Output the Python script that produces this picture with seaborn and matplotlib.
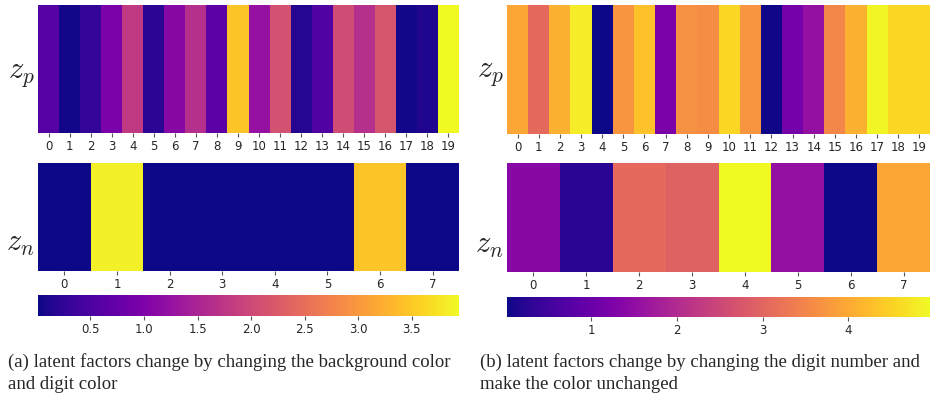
import numpy as np
import seaborn as sns
import matplotlib
matplotlib.use("Agg")
import matplotlib.pyplot as plt

# values (plasma colormap)
a_zp = [0.60, 0.05, 0.30, 0.95, 1.80, 0.22, 1.10, 1.65, 0.65, 3.45,
        1.25, 2.10, 0.15, 0.55, 2.05, 1.65, 2.15, 0.05, 0.12, 3.94]
a_zn = [0.01, 3.85, 0.01, 0.01, 0.01, 0.01, 3.45, 0.01]
b_zp = [3.96, 3.08, 4.10, 4.80, 0.02, 3.72, 4.30, 1.20, 3.67, 3.62,
        4.55, 3.72, 0.05, 1.15, 1.55, 3.52, 4.10, 4.90, 4.55, 4.55]
b_zn = [1.40, 0.27, 3.08, 2.93, 4.95, 1.55, 0.02, 3.96]

a_range = (0.01, 3.94)
b_range = (0.02, 4.95)
a_ticks = [0.5, 1.0, 1.5, 2.0, 2.5, 3.0, 3.5]
b_ticks = [1, 2, 3, 4]

cap_a = ["(a) latent factors change by changing the background color", "and digit color"]
cap_b = ["(b) latent factors change by changing the digit number and", "make the color unchanged"]

sns.set_style("white")
plt.rcParams['mathtext.fontset'] = 'cm'

W, H = 935, 396
fig = plt.figure(figsize=(W / 100, H / 100), dpi=100)


def box(x0, top, w, bottom):
    # pixel box -> figure fraction
    return [x0 / W, (H - bottom) / H, w / W, (bottom - top) / H]


def panel(x0, w, zp, zn, rng, ticks, tops, cap, cap_x, lab_y):
    ax1 = fig.add_axes(box(x0, tops[0][0], w, tops[0][1]))
    ax2 = fig.add_axes(box(x0, tops[1][0], w, tops[1][1]))
    cax = fig.add_axes(box(x0, tops[2][0], w, tops[2][1]))
    sns.heatmap(np.array(zp).reshape(1, -1), ax=ax1, cmap="plasma",
                vmin=rng[0], vmax=rng[1], cbar=False, yticklabels=False)
    sns.heatmap(np.array(zn).reshape(1, -1), ax=ax2, cmap="plasma",
                vmin=rng[0], vmax=rng[1], cbar=True, cbar_ax=cax,
                cbar_kws={"orientation": "horizontal", "ticks": ticks},
                yticklabels=False)
    for ax in (ax1, ax2, cax):
        ax.tick_params(axis="x", bottom=True, length=3, width=0.8,
                       color="#555555", labelsize=8.5, labelcolor="#262626",
                       pad=2, rotation=0)
    cax.tick_params(length=3)
    ax1.text(-0.008, lab_y[0], "$z_p$", transform=ax1.transAxes,
             ha="right", va="baseline", fontsize=22)
    ax2.text(-0.008, lab_y[1], "$z_n$", transform=ax2.transAxes,
             ha="right", va="baseline", fontsize=22)
    # caption, first line stretched to the column width like a justified line
    t1 = fig.text(cap_x / W, (H - 367) / H, cap[0], ha="left", va="baseline",
                  fontsize=13.5, family="Liberation Serif")
    fig.text(cap_x / W, (H - 389) / H, cap[1], ha="left", va="baseline",
             fontsize=13.5, family="Liberation Serif")
    return t1


panel(38, 421, a_zp, a_zn, a_range, a_ticks,
      [(5, 133), (163, 271), (295, 316)], cap_a, 8, [0.43, 0.19])
panel(507, 423, b_zp, b_zn, b_range, b_ticks,
      [(5, 134), (163, 272), (297, 317)], cap_b, 480, [0.44, 0.18])

fig.savefig("out.png", dpi=100)
